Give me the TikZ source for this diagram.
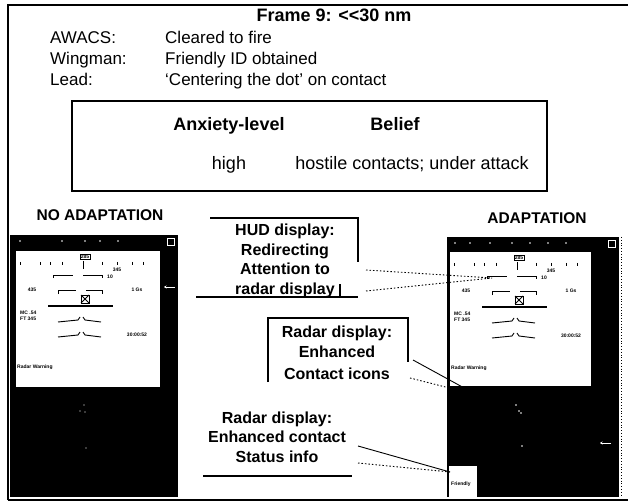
\documentclass[tikz,border=0pt]{standalone}
\usepackage{fontspec}
\setmainfont{Liberation Sans}
\usetikzlibrary{positioning,calc,arrows.meta}
\tikzset{
  lbl/.style={font=\fontsize{17}{20}\selectfont, anchor=base west, inner sep=0pt},
  hdr/.style={font=\fontsize{18}{21}\selectfont\bfseries, anchor=base, inner sep=0pt},
  cell/.style={font=\fontsize{18}{21}\selectfont, anchor=base, inner sep=0pt},
  side/.style={font=\fontsize{15.5}{18}\selectfont\bfseries, anchor=base, inner sep=0pt},
  note/.style={font=\fontsize{16}{19.5}\selectfont\bfseries, align=center, inner sep=0pt},
  bar/.style={line width=1.8pt},
  lead/.style={line width=0.9pt},
  leaddot/.style={line width=0.9pt, dash pattern=on 1.5pt off 2pt},
  hudtxt/.style={font=\fontsize{5}{5}\selectfont\bfseries, inner sep=0pt},
  hudln/.style={line width=0.9pt},
}
% HUD face, drawn in the white area's own coordinates
\newcommand{\hudface}{%
  \node[hudtxt, draw, line width=0.5pt, inner sep=0.8pt] at (69,6) {285};
  \foreach \tx in {4,24,34,46,86,101,116,127} \draw[hudln] (\tx,11) -- (\tx,14);
  \draw[hudln] (67,10) -- (67,18);
  \node[hudtxt] at (101,19) {345};
  \draw[hudln] (37,27) -- (37,24) -- (57,24);
  \draw[hudln] (67,24) -- (86,24) -- (86,27);
  \node[hudtxt] at (94,26) {10};
  \draw[hudln] (42,43) -- (42,39) -- (60,39) (70,39) -- (86,39) -- (86,43);
  \node[hudtxt] at (16,39) {435};
  \node[hudtxt] at (121,39) {1 Gs};
  \draw[hudln] (65,44) rectangle (73,52);
  \draw[hudln] (65,44) -- (73,52) (65,52) -- (73,44);
  \draw[line width=1.2pt] (32,55) -- (97,55);
  \node[hudtxt, anchor=west] at (4,62) {MC .54};
  \node[hudtxt, anchor=west] at (4,68) {FT 345};
  \foreach \py in {0,15} {
    \draw[hudln] (42,71+\py) -- (62,69+\py) -- (64,66+\py);
    \draw[hudln] (67,66+\py) -- (69,69+\py) -- (85,71+\py);
  }
  \node[hudtxt] at (121,84) {30:00:52};
  \node[hudtxt, anchor=west] at (1,116) {Radar Warning};
}

\begin{document}
\begin{tikzpicture}[x=1pt, y=-1pt]
  \useasboundingbox (0,0) rectangle (628,502);

  % outer frame
  \draw[line width=1.3pt] (8,500) -- (8,5) -- (628,5);
  \draw[line width=1.3pt] (8,500) -- (628,500);

  % frame heading and radio calls
  \node[hdr] (title) at (334,22) {Frame 9: <\kern0pt<30 nm};
  \node[lbl] (awacs) at (50,44) {AWACS:};
  \node[lbl] (wing)  at (50,65) {Wingman:};
  \node[lbl] (lead)  at (50,86) {Lead:};
  \node[lbl] (awacsv) at (165,44) {Cleared to fire};
  \node[lbl] (wingv)  at (165,65) {Friendly ID obtained};
  \node[lbl] (leadv)  at (165,86) {‘Centering the dot’ on contact};

  % pilot state table
  \draw[line width=2pt] (72,101) rectangle (547,191);
  \node[hdr]  (anx)    at (229,131) {Anxiety-level};
  \node[hdr]  (belief) at (395,131) {Belief};
  \node[cell] (anxv)   at (229,170) {high};
  \node[cell] (beliefv) at (412,170) {hostile contacts; under attack};

  \node[side] (noadapt) at (100,221) {NO ADAPTATION};
  \node[side] (adapt)   at (537,224) {ADAPTATION};

  % left screenshot (no adaptation)
  \fill (10,235) rectangle (178,497);
  \fill[white] (16,251) rectangle (160,387);
  \foreach \dx in {20,62,85,100,118} \fill[white] (\dx,241) circle (0.8pt);
  \draw[white, line width=0.6pt] (167,238) rectangle (174,245);
  \draw[white, line width=0.8pt, -{Stealth[length=2.5pt,width=3pt]}] (175,287) -- (164,287);
  \foreach \dp in {(84,405),(80,411),(85,412),(86,448)} \fill[white] \dp circle (0.7pt);
  \begin{scope}[shift={(16,251)}]
    \hudface
  \end{scope}

  % right screenshot (adaptation)
  \fill (447,237) rectangle (619,497);
  \fill[white] (450,252) rectangle (591,386);
  \fill[white] (449,466) rectangle (477,497);
  \foreach \dx in {455,470,490,512,530,548,566} \fill[white] (\dx,243) circle (0.8pt);
  \draw[white, line width=0.6pt] (608,240) rectangle (615,247);
  \draw[white, line width=0.8pt, -{Stealth[length=2.5pt,width=3pt]}] (611,443) -- (600,443);
  \foreach \dp in {(516,405),(519,411),(521,413),(522,446)} \fill[white] \dp circle (0.8pt);
  \draw[dotted, line width=0.8pt] (621,237) -- (621,497);
  \node[hudtxt, anchor=west] (friend) at (451,484) {Friendly};
  \begin{scope}[shift={(450,252)}]
    \hudface
  \end{scope}

  % HUD callout
  \draw[bar] (210,218) -- (358,218) -- (358,262);
  \draw[bar] (340,284) -- (340,297);
  \draw[bar] (196,297) -- (358,297);
  \node[note] (hudnote) at (285,261)
    {HUD display:\\Redirecting\\Attention to\\radar display};
  \coordinate (hudA) at (366,270);
  \coordinate (hudB) at (366,291);
  \coordinate (hudtip) at (492,278);
  \draw[leaddot] (hudA) -- (hudtip);
  \draw[leaddot] (hudB) -- (hudtip);

  % radar icon callout
  \draw[bar] (268,382) -- (268,318) -- (408,318) -- (408,362);
  \node[note] (iconnote) at (337,353)
    {Radar display:\\Enhanced\\[3pt]Contact icons};
  \coordinate (iconA) at (413,360);
  \coordinate (iconB) at (410,378);
  \coordinate (icontip) at (477,395);
  \draw[lead] (iconA) -- (icontip);
  \draw[leaddot] (iconB) -- (icontip);

  % radar status callout
  \node[note] (statnote) at (277,437)
    {Radar display:\\Enhanced contact\\Status info};
  \draw[bar] (203,476) -- (352,476);
  \coordinate (statA) at (358,446);
  \coordinate (statB) at (358,463);
  \coordinate (stattip) at (450,472);
  \draw[lead] (statA) -- (stattip);
  \draw[leaddot] (statB) -- (stattip);
\end{tikzpicture}
\end{document}
